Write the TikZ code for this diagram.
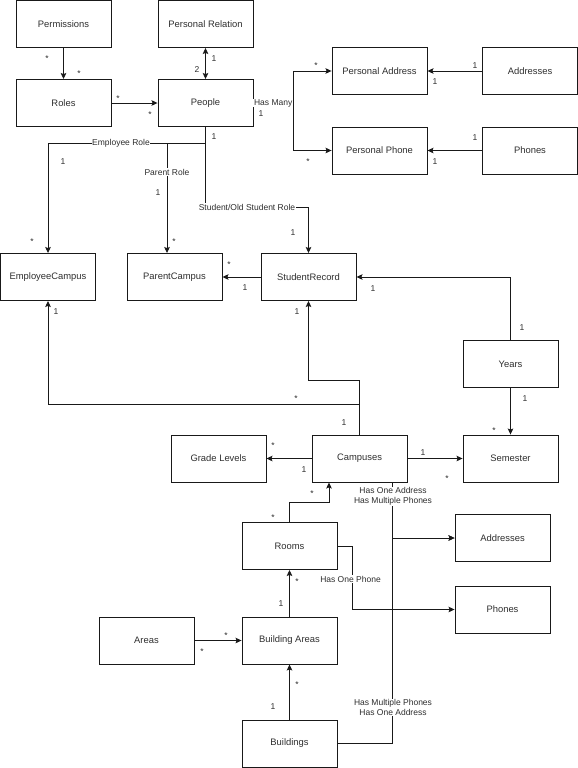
\documentclass[tikz,border=0pt]{standalone}
\usepackage{fontspec}
\setmainfont{Liberation Sans}
\usetikzlibrary{arrows.meta}
\begin{document}
\begin{tikzpicture}[x=1pt,y=-1pt,
  txt/.style={text=black!82},
  box/.style={draw=black!90, txt, line width=0.9pt, minimum width=95pt, minimum height=47pt, inner sep=0pt, font=\fontsize{9.4}{11}\selectfont},
  arr/.style={draw=black!90, line width=0.9pt, -{Stealth[length=6pt,width=5.5pt,inset=1pt]}},
  arrtwo/.style={draw=black!90, line width=0.9pt, {Stealth[length=6pt,width=5.5pt,inset=1pt]}-{Stealth[length=6pt,width=5.5pt,inset=1pt]}},
  ln/.style={draw=black!90, line width=0.9pt},
  lbl/.style={fill=white, txt, inner sep=0.6pt, font=\fontsize{8.5}{10.5}\selectfont, align=center},
  mul/.style={inner sep=0pt, txt, font=\fontsize{8.5}{10}\selectfont},
  star/.style={inner sep=0pt, txt, font=\fontsize{8.5}{10}\selectfont, yshift=-1.9pt}]
\useasboundingbox (0,0) rectangle (578,768);
% boxes
\node[box] (perm) at (63.5,24) {Permissions};
\node[box] (prel) at (205.5,24) {Personal Relation};
\node[box] (roles) at (63.5,103) {Roles};
\node[box] (people) at (205.5,103) {People};
\node[box] (paddr) at (379.5,71) {Personal Address};
\node[box] (addrA) at (530,71) {Addresses};
\node[box] (pphone) at (379.5,150.5) {Personal Phone};
\node[box] (phoneA) at (530,150.5) {Phones};
\node[box] (ecamp) at (48,277) {EmployeeCampus};
\node[box] (pcamp) at (174.5,277) {ParentCampus};
\node[box] (srec) at (308.5,277) {StudentRecord};
\node[box] (years) at (510.5,364) {Years};
\node[box] (camp) at (359.5,458.5) {Campuses};
\node[box] (sem) at (510.5,458.5) {Semester};
\node[box] (grade) at (218.5,458.5) {Grade Levels};
\node[box] (rooms) at (289.5,546) {Rooms};
\node[box] (addrB) at (502.5,538) {Addresses};
\node[box] (phoneB) at (502.5,609.5) {Phones};
\node[box] (areas) at (146.5,640.5) {Areas};
\node[box] (barea) at (289.5,640.5) {Building Areas};
\node[box] (bldg) at (289.5,743.5) {Buildings};
% helper coordinates
\coordinate (hm) at (293,103);
\coordinate (pb) at (205.5,143);
\coordinate (pr) at (167,143);
\coordinate (ps) at (205.5,207);
\coordinate (cu) at (359.5,380);
\coordinate (cl) at (359.5,404);
\coordinate (rc) at (329,502.5);
\coordinate (rp) at (352,546);
\coordinate (ca) at (392,538);
\coordinate (ba) at (392,743.5);
% connectors
\draw[arr] (perm) -- (roles);
\draw[arr] (roles) -- (people);
\draw[arrtwo] (prel) -- (people);
\draw[ln] (people.east) -- node[lbl] (hasmany) {Has Many} (hm);
\draw[arr] (hm) |- (paddr.west);
\draw[arr] (hm) |- (pphone.west);
\draw[arr] (addrA) -- (paddr);
\draw[arr] (phoneA) -- (pphone);
\draw[arr] (people.south) -- (ps) -| (srec.north);
\draw[arr] (pb) -| (ecamp.north);
\draw[arr] (pr) -- (pr |- pcamp.north);
\node[lbl] (lstu) at (247,207) {Student/Old Student Role};
\node[lbl] (lemp) at (121,143) {Employee Role};
\node[lbl] (lpar) at (167,172) {Parent Role};
\draw[arr] (srec) -- (pcamp);
\draw[arr] (years.north) |- (srec.east);
\draw[arr] (years) -- (sem);
\draw[arr] (camp.north) -- (cu) -| (srec.south);
\draw[arr] (cl) -| (ecamp.south);
\draw[arr] (camp) -- (grade);
\draw[arr] (camp) -- (sem);
\draw[arr] (rooms.north) |- (rc) -- (rc |- camp.south);
\draw[arr] (rooms.east) -- (rp) |- (phoneB.west);
\node[lbl] (lphone) at (350.5,579) {Has One Phone};
\draw[arr] (camp.south -| ca) -- (ca) -- (addrB.west);
\draw[arr] (bldg.east) -- (ba) -- (ca) -- (addrB.west);
\node[lbl] (lcamp) at (393,496.5) {Has One Address\\Has Multiple Phones};
\node[lbl] (lbldg) at (393,707.5) {Has Multiple Phones\\Has One Address};
\draw[arr] (barea) -- (rooms);
\draw[arr] (areas) -- (barea);
\draw[arr] (bldg) -- (barea);
% multiplicities
\foreach [count=\i] \x/\y in {47/57, 79/72, 118/97, 150/113, 316/64, 308/160, 32/240, 174/240, 229/263, 494/429, 296/397, 273/444, 447/477, 312/492, 273/516, 297/580, 226/634, 202/650, 297/683}
  \node[star] (s\i) at (\x,\y) {*};
\foreach [count=\i] \t/\x/\y in {1/214/59, 2/197/70, 1/261/114, 1/475/66, 1/435/82, 1/475/138, 1/435/162, 1/214/137, 1/63/162, 1/158/193, 1/293/233, 1/245/288, 1/373/289, 1/522/328, 1/525/399, 1/344/423, 1/56/312, 1/297/312, 1/304/470, 1/423/453, 1/281/604, 1/273/707}
  \node[mul] (n\i) at (\x,\y) {\t};
\end{tikzpicture}
\end{document}
